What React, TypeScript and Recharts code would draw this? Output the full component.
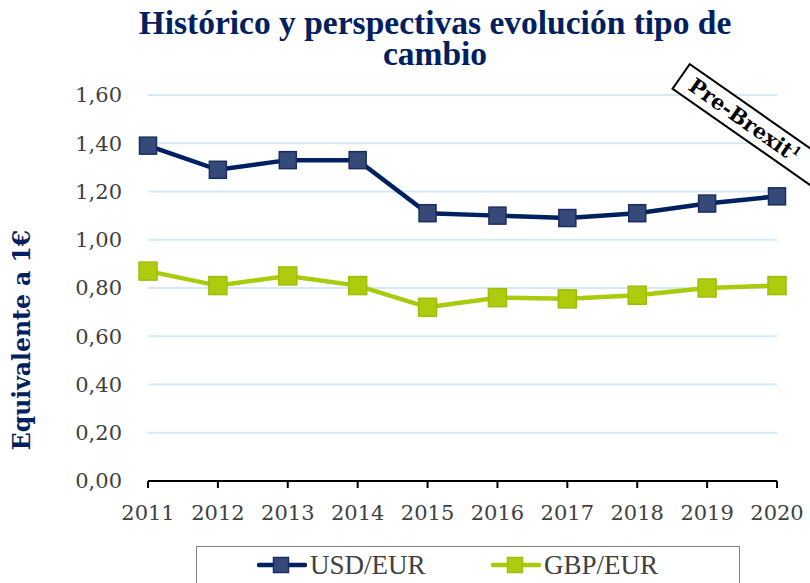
import React from 'react';
import { LineChart, Line, XAxis, YAxis, CartesianGrid } from 'recharts';

const years = ['2011', '2012', '2013', '2014', '2015', '2016', '2017', '2018', '2019', '2020'];
const usdEur = [1.39, 1.29, 1.33, 1.33, 1.11, 1.10, 1.09, 1.11, 1.15, 1.18];
const gbpEur = [0.87, 0.81, 0.85, 0.81, 0.72, 0.76, 0.755, 0.77, 0.80, 0.81];
const yTicks = [0, 0.2, 0.4, 0.6, 0.8, 1.0, 1.2, 1.4, 1.6];
const titleText = 'Histórico y perspectivas evolución tipo de cambio';
const yLabel = 'Equivalente a 1€';
const seriesNames = ['USD/EUR', 'GBP/EUR'];

const data = years.map((y, i) => ({ year: y, usd: usdEur[i], gbp: gbpEur[i] }));

const USD_LINE = '#002060';
const USD_FILL = '#364A7A';
const USD_EDGE = '#1A2D63';
const GBP_LINE = '#A8CB0C';
const GBP_FILL = '#AECB0E';
const GBP_EDGE = '#9DBE0A';

const SquareDot = (size: number, fill: string, stroke: string) => (props: any) => {
  const { cx, cy, index } = props;
  if (cx == null || cy == null) return null;
  return (
    <rect
      key={`d-${index}`}
      x={cx - size / 2}
      y={cy - size / 2}
      width={size}
      height={size}
      fill={fill}
      stroke={stroke}
      strokeWidth={1.5}
    />
  );
};

const fmt = (v: number) => v.toFixed(2).replace('.', ',');

const tickFont = { fontFamily: '"DejaVu Serif", serif', fontSize: 21, fill: '#404040' };

export default function App() {
  return (
    <div
      style={{
        position: 'absolute',
        left: 0,
        top: 0,
        width: 810,
        height: 583,
        overflow: 'hidden',
        background: '#ffffff',
      }}
    >
      <div
        style={{
          position: 'absolute',
          left: 113,
          top: 7,
          width: 644,
          textAlign: 'center',
          fontFamily: '"Liberation Serif", serif',
          fontWeight: 'bold',
          fontSize: 33.5,
          lineHeight: '31px',
          color: USD_LINE,
        }}
      >
        {titleText}
      </div>
      <LineChart
        width={810}
        height={583}
        data={data}
        margin={{ top: 95, right: 33, bottom: 62, left: 88 }}
      >
        <CartesianGrid horizontal vertical={false} stroke="#D5EAF5" strokeWidth={2} />
        <XAxis
          dataKey="year"
          height={40}
          axisLine={{ stroke: '#000', strokeWidth: 2 }}
          tickLine={{ stroke: '#000', strokeWidth: 2 }}
          tickSize={7}
          tickMargin={17}
          tick={tickFont}
          interval={0}
        />
        <YAxis
          width={60}
          domain={[0, 1.6]}
          ticks={yTicks}
          tickFormatter={fmt}
          axisLine={false}
          tickLine={false}
          tickSize={0}
          tickMargin={26}
          tick={{ ...tickFont, textAnchor: 'end' }}
          interval={0}
        />
        <Line
          type="linear"
          dataKey="usd"
          name={seriesNames[0]}
          stroke={USD_LINE}
          strokeWidth={4.5}
          dot={SquareDot(17, USD_FILL, USD_EDGE)}
          isAnimationActive={false}
        />
        <Line
          type="linear"
          dataKey="gbp"
          name={seriesNames[1]}
          stroke={GBP_LINE}
          strokeWidth={4.5}
          dot={SquareDot(18, GBP_FILL, GBP_EDGE)}
          isAnimationActive={false}
        />
      </LineChart>

      <div
        style={{
          position: 'absolute',
          left: 22,
          top: 340,
          transform: 'translate(-50%, -50%) rotate(-90deg)',
          whiteSpace: 'nowrap',
          fontFamily: '"DejaVu Serif", serif',
          fontWeight: 'bold',
          fontSize: 23.5,
          color: USD_LINE,
        }}
      >
        {yLabel}
      </div>

      <div
        style={{
          position: 'absolute',
          left: 752,
          top: 126,
          width: 175,
          height: 32,
          transform: 'translate(-50%, -50%) rotate(35deg)',
          border: '2px solid #000',
          background: '#fff',
          boxSizing: 'border-box',
          paddingLeft: 11,
          fontFamily: '"DejaVu Serif", serif',
          fontWeight: 'bold',
          fontSize: 21,
          lineHeight: '28px',
          color: '#000',
          whiteSpace: 'nowrap',
        }}
      >
        <span>
          Pre-Brexit<sup style={{ fontSize: 12, lineHeight: 0 }}>1</sup>
        </span>
      </div>

      <div
        style={{
          position: 'absolute',
          left: 196,
          top: 546,
          width: 544,
          height: 60,
          border: '1.5px solid #808080',
          boxSizing: 'border-box',
          background: '#fff',
        }}
      >
        {[
          { name: seriesNames[0], line: USD_LINE, fill: USD_FILL, edge: USD_EDGE, x: 60 },
          { name: seriesNames[1], line: GBP_LINE, fill: GBP_FILL, edge: GBP_EDGE, x: 294 },
        ].map((s) => (
          <div
            key={s.name}
            style={{
              position: 'absolute',
              left: s.x,
              top: 2,
              display: 'flex',
              alignItems: 'center',
              height: 32,
            }}
          >
            <svg width={50} height={24} style={{ display: 'block' }}>
              <line x1={2} y1={12} x2={48} y2={12} stroke={s.line} strokeWidth={4.5} strokeLinecap="round" />
              <rect x={16.5} y={4.5} width={15} height={15} fill={s.fill} stroke={s.edge} strokeWidth={1.5} />
            </svg>
            <span
              style={{
                marginLeft: 3,
                fontFamily: '"Liberation Serif", serif',
                fontSize: 27,
                color: '#404040',
              }}
            >
              {s.name}
            </span>
          </div>
        ))}
      </div>
    </div>
  );
}
